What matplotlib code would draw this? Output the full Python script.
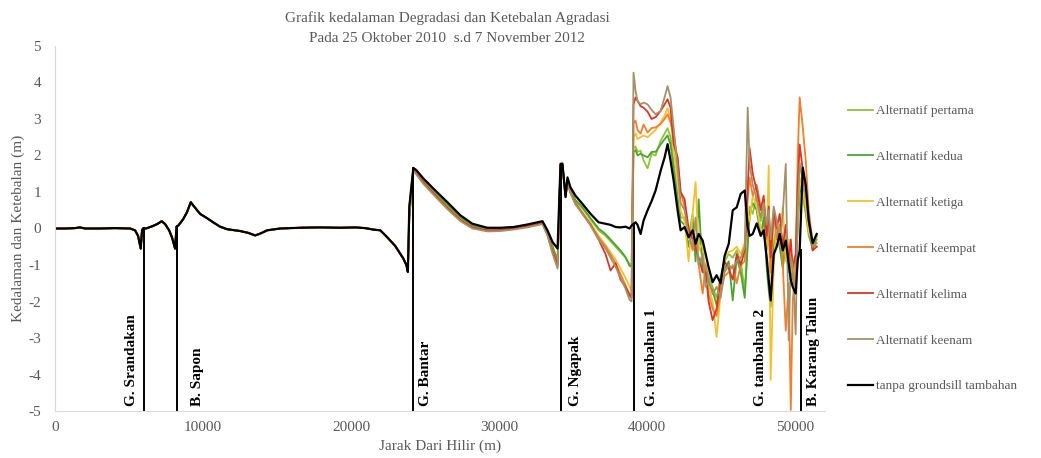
import matplotlib
matplotlib.use("Agg")
import matplotlib.pyplot as plt

plt.rcParams['font.family'] = ['Liberation Serif', 'DejaVu Serif']
plt.rcParams['axes.unicode_minus'] = False

# profil hulu (0 - 23.5 km), semua alternatif sama dengan kondisi tanpa groundsill
x_hulu = [0, 676, 1352, 1690, 2028, 3042, 4056, 5070, 5408, 5611, 5790, 5880, 5950,
          6150, 6560, 6900, 7210, 7440, 7710, 7910, 8110, 8210, 8330, 8650, 8920,
          9170, 9400, 9800, 10280, 10680, 11150, 11630, 12510, 13050, 13520, 13860,
          14330, 15210, 16560, 17910, 19270, 20280, 20960, 21500, 21970, 22440,
          22980, 23520]
y_hulu = [0.0, 0.0, 0.01, 0.03, 0.0, 0.0, 0.01, 0.0, -0.05, -0.2, -0.55, -0.05, 0.0,
          0.0, 0.06, 0.12, 0.2, 0.12, -0.05, -0.25, -0.55, 0.05, 0.08, 0.25, 0.45,
          0.72, 0.6, 0.4, 0.28, 0.17, 0.05, -0.02, -0.07, -0.12, -0.19, -0.14,
          -0.05, 0.0, 0.02, 0.03, 0.02, 0.03, 0.01, -0.03, -0.05, -0.24,
          -0.48, -0.82]

# jarak hilir dari Bantar sampai ujung
x_hilir = [23730, 23830, 23930, 24200, 24400, 24880, 25690, 26500, 27380, 28190,
           29200, 30080, 30960, 31910, 32920, 33260, 33600, 33940,
           34140, 34270, 34480, 34610, 34810, 35150, 35630, 36170, 36710, 37180,
           37520, 37860, 38190, 38530, 38800, 38940,
           39070, 39210, 39340, 39550, 39750, 40020, 40290, 40560, 40900, 41170,
           41370, 41570, 41780, 42050, 42250,
           42520, 42790, 43060, 43260, 43470, 43740, 43940, 44140, 44410, 44680,
           44950, 45220, 45500, 45770, 46040, 46310, 46580,
           46780, 46910, 47120, 47390, 47660, 47860, 48060, 48200, 48330, 48540,
           48740, 48940, 49150, 49350, 49550, 49690, 49820, 50020, 50160, 50290,
           50500, 50700, 50900, 51170, 51440]

alt1 = [-1.0, -1.15, 0.55, 1.62, 1.55, 1.3, 0.95, 0.62, 0.28, 0.07, -0.02, -0.01, 0.02, 0.08, 0.17, -0.12, -0.5, -0.85,
        1.75, 1.75, 0.9, 1.35, 1.05, 0.75, 0.55, 0.25, -0.05, -0.2, -0.35, -0.5, -0.65, -0.8, -0.98, -1.0,
        2.2, 2.25, 2.1, 2.13, 1.86, 1.65, 2.05, 2.0, 2.4, 2.6, 2.75, 2.5, 1.8, 0.9, 0.3,
        0.3, -0.2, 0.4, -0.6, -0.2, -0.8, -1.0, -1.3, -1.6, -1.9, -1.3, -0.9, -0.7, -0.8, -0.6, -0.9, -1.7,
        -0.3, 0.6, 0.4, 0.9, 0.2, 0.5, -0.6, -0.2, -1.0, -0.4, 0.1, -0.3, -0.8, -0.2, -1.0, -0.7, -1.3, -0.9, 0.2, 1.2,
        0.9, 0.4, -0.2, -0.5, -0.3]
alt2 = [-1.0, -1.15, 0.6, 1.63, 1.57, 1.33, 0.98, 0.66, 0.3, 0.08, -0.01, 0.0, 0.03, 0.09, 0.18, -0.1, -0.48, -0.9,
        1.75, 1.75, 0.9, 1.35, 1.08, 0.78, 0.58, 0.28, 0.0, -0.15, -0.3, -0.45, -0.6, -0.78, -1.02, -1.05,
        2.1, 2.15, 2.0, 2.05, 2.0, 1.95, 2.1, 2.1, 2.3, 2.45, 2.55, 2.3, 1.6, 0.8, 0.2,
        0.1, -0.5, 0.2, -0.9, 0.8, -1.2, -1.1, -1.5, -1.7, -2.1, -1.5, -1.1, -0.9, -1.97, -0.8, -1.2, -1.9,
        -0.5, 0.4, 0.7, 0.5, -0.2, 0.3, -1.07, -1.69, -2.15, -0.6, -0.1, -0.5, -1.1, -0.4, -1.2, -0.9, -1.4, -1.0, 0.0, 1.0,
        1.1, 0.5, -0.1, -0.6, -0.2]
alt3 = [-1.0, -1.17, 0.4, 1.6, 1.52, 1.27, 0.92, 0.58, 0.24, 0.03, -0.05, -0.04, 0.0, 0.06, 0.15, -0.15, -0.6, -1.0,
        1.75, 1.74, 0.9, 1.3, 1.0, 0.7, 0.45, 0.15, -0.2, -0.45, -0.65, -0.85, -1.1, -1.35, -1.6, -1.7,
        2.5, 2.6, 2.45, 2.5, 2.55, 2.5, 2.6, 2.7, 2.9, 3.1, 3.3, 3.0, 2.2, 1.3, 0.5,
        0.2, -0.9, 0.4, 1.27, -0.6, -0.4, -1.4, -1.6, -2.0, -2.97, -1.8, -0.8, -0.65, -0.6, -0.5, -0.7, -0.4,
        0.4, 0.2, 0.9, 0.6, 0.0, -0.2, -0.5, 1.72, -4.15, -1.0, 0.2, -0.4, 0.6, -0.9, -0.3, -1.2, -0.8, -1.5, 0.3, 1.4,
        1.0, 0.6, -0.1, -0.4, -0.2]
alt4 = [-1.0, -1.18, 0.3, 1.6, 1.5, 1.25, 0.9, 0.56, 0.22, 0.02, -0.06, -0.05, -0.01, 0.05, 0.14, -0.18, -0.65, -1.05,
        1.75, 1.74, 0.88, 1.3, 1.0, 0.68, 0.42, 0.1, -0.25, -0.5, -0.72, -0.95, -1.25, -1.55, -1.85, -1.9,
        2.9, 2.95, 2.7, 2.6, 2.85, 2.63, 2.75, 2.77, 2.86, 3.0, 3.13, 2.9, 2.6, 1.86, 1.0,
        0.6, -0.1, -0.6, -0.3, -1.0, -1.78, -1.0, -1.8, -2.2, -2.4, -1.7, -1.3, -1.2, -1.0, -1.5, -1.0, -0.9,
        0.8, 1.4, 0.9, 1.2, 0.6, 0.8, -0.3, 0.3, -1.2, 0.4, -0.3, 0.1, -1.0, -2.8, -1.5, -4.97, -2.0, -1.0, 2.0, 3.59,
        2.77, 1.86, 0.5, -0.4, -0.5]
alt5 = [-1.0, -1.18, 0.35, 1.6, 1.51, 1.26, 0.91, 0.57, 0.23, 0.03, -0.05, -0.04, 0.0, 0.06, 0.15, -0.16, -0.62, -1.0,
        1.75, 1.74, 0.88, 1.28, 0.98, 0.68, 0.4, 0.1, -0.3, -0.7, -1.15, -0.95, -1.4, -1.6, -1.8, -1.9,
        3.4, 3.59, 3.5, 3.35, 3.31, 3.2, 3.0, 3.05, 3.22, 3.4, 3.54, 3.31, 2.3, 1.95, 1.0,
        0.8, 0.0, -0.3, -0.5, -0.8, -1.2, -1.2, -2.0, -2.51, -2.2, -1.4, -0.9, -1.1, -1.4, -0.7, -1.0, -0.6,
        1.13, 2.2, 1.5, 1.04, 0.5, 0.9, -0.2, 0.6, -0.8, 0.5, 0.0, 0.4, -0.5, 0.1, -0.9, -0.3, -1.1, -0.7, 1.2, 2.3,
        1.6, 1.1, 0.3, -0.6, -0.5]
alt6 = [-1.0, -1.2, 0.3, 1.58, 1.48, 1.22, 0.87, 0.53, 0.2, 0.0, -0.08, -0.07, -0.03, 0.03, 0.12, -0.2, -0.68, -1.1,
        1.74, 1.73, 0.86, 1.27, 0.97, 0.66, 0.4, 0.08, -0.3, -0.55, -0.8, -1.05, -1.35, -1.65, -1.95, -2.0,
        4.27, 3.77, 3.5, 3.4, 3.45, 3.4, 3.25, 3.13, 3.22, 3.6, 3.9, 3.59, 2.77, 1.6, 0.7,
        0.5, -0.2, -0.5, 0.3, -1.0, -0.7, -1.6, -1.4, -1.8, -1.6, -1.9, -1.2, -1.0, -1.1, -0.9, -0.8, -0.5,
        3.31, 1.77, 1.2, 0.8, 0.3, 0.7, 0.1, 0.5, -0.3, 0.6, 0.2, -0.5, 0.4, 1.77, -3.06, -0.8, -1.0, -2.9, 0.5, 1.8,
        1.3, 0.9, 0.2, -0.5, -0.4]
tanpa = [-1.0, -1.19, 0.6, 1.66, 1.6, 1.37, 1.04, 0.72, 0.36, 0.13, 0.02, 0.02, 0.04, 0.11, 0.2, -0.05, -0.37, -0.55,
         1.77, 1.78, 0.86, 1.4, 1.13, 0.9, 0.67, 0.4, 0.17, 0.13, 0.1, 0.04, 0.03, 0.05, 0.0, 0.08,
         0.13, 0.17, 0.1, -0.15, 0.22, 0.5, 0.75, 1.04, 1.58, 1.95, 2.31, 1.86, 1.31, 0.49, -0.05,
         0.04, -0.24, -0.05, -0.42, -0.15, -0.33, -0.69, -1.06, -1.47, -1.28, -1.5, -0.75, -0.42, 0.5, 0.58, 0.95, 1.04,
         0.04, -0.2, -0.15, 0.14, -0.2, -0.05, -0.78, -1.42, -1.97, -0.7, -0.5, -0.15, -0.6, -0.33, -0.96, -1.4, -1.6,
         -1.78, -0.87, -0.6, 1.67, 1.2, 0.22, -0.4, -0.15]

nama_seri = ['Alternatif pertama', 'Alternatif kedua', 'Alternatif ketiga',
             'Alternatif keempat', 'Alternatif kelima', 'Alternatif keenam']
data_seri = [alt1, alt2, alt3, alt4, alt5, alt6]
warna = ['#8fc33a', '#4ca42f', '#f2c12e', '#f07f2e', '#d9352a', '#a39267']

# groundsill / bendung
gs_nama = ['G. Srandakan', 'B. Sapon', 'G. Bantar', 'G. Ngapak', 'G. tambahan 1',
           'G. tambahan 2', 'B. Karang Talun']
gs_x = [6030, 8270, 24200, 34140, 39070, None, 50360]
gs_top = [0.0, 0.08, 1.66, 1.77, 0.13, None, -0.6]
gs_label_x = [5200, 9600, 25010, 35150, 40270, 47660, 51240]

fig = plt.figure(figsize=(10.41, 4.58), dpi=100)
ax = fig.add_axes([0.0528, 0.1026, 0.7397, 0.797])

for nama, ys, c in zip(nama_seri, data_seri, warna):
    ax.plot(x_hulu + x_hilir, y_hulu + ys, color=c, lw=1.3, label=nama)
ax.plot(x_hulu + x_hilir, y_hulu + tanpa, color='black', lw=1.6,
        label='tanpa groundsill tambahan')

for gx, gt in zip(gs_x, gs_top):
    if gx is not None:
        ax.plot([gx, gx], [-5, gt], color='black', lw=1.4)

for nama, lx in zip(gs_nama, gs_label_x):
    ax.text(lx, -4.86, nama, rotation=90, ha='center', va='bottom',
            fontsize=11, fontweight='bold', color='black')

ax.set_xlim(0, 52000)
ax.set_ylim(-5, 5)
ax.set_xticks([0, 10000, 20000, 30000, 40000, 50000])
ax.set_yticks(range(-5, 6))
ax.tick_params(length=0, labelsize=11, labelcolor='#595959')
ax.tick_params(axis='y', pad=10)
ax.tick_params(axis='x', pad=7)
for s in ['top', 'right']:
    ax.spines[s].set_visible(False)
for s in ['bottom', 'left']:
    ax.spines[s].set_color('#d9d9d9')

fig.text(447 / 1041, 1 - 18 / 458, 'Grafik kedalaman Degradasi dan Ketebalan Agradasi',
         ha='center', va='center', fontsize=11, color='#595959')
fig.text(447 / 1041, 1 - 38 / 458, 'Pada 25 Oktober 2010  s.d 7 November 2012',
         ha='center', va='center', fontsize=11, color='#595959')
fig.text(440 / 1041, 1 - 446 / 458, 'Jarak Dari Hilir (m)', ha='center', va='center',
         fontsize=11, color='#595959')
fig.text(18 / 1041, 0.501, 'Kedalaman dan Ketebalan (m)', rotation=90, ha='center',
         va='center', fontsize=11, color='#595959')

leg = fig.legend(loc='center left', bbox_to_anchor=(0.803, 0.457), frameon=False,
                 fontsize=9.5, labelspacing=2.55, handlelength=1.9, handletextpad=0.25)
for t in leg.get_texts():
    t.set_color('#595959')

fig.savefig('out.png', dpi=100)
